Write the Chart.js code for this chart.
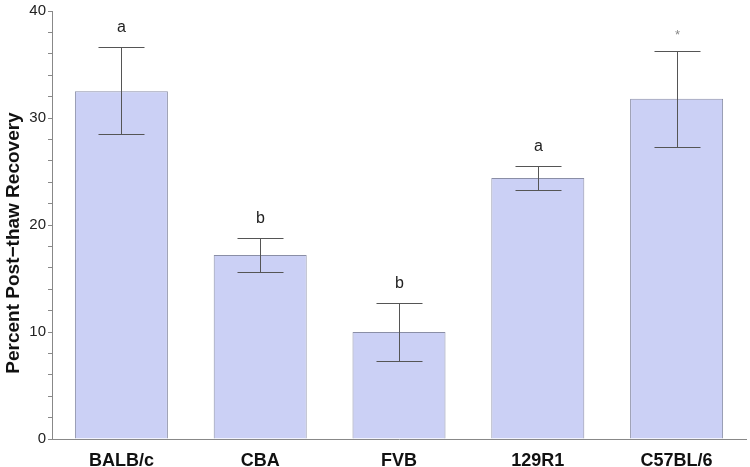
<!DOCTYPE html>
<html>
<head>
<meta charset="utf-8">
<script src="https://cdn.jsdelivr.net/npm/chart.js@4.4.1/dist/chart.umd.min.js"></script>
<style>
  html, body { margin: 0; padding: 0; background: #fff; }
  #wrap { width: 750px; height: 467px; }
</style>
</head>
<body>
<div id="wrap"><canvas id="chart"></canvas></div>
<script>
const strains = ['BALB/c', 'CBA', 'FVB', '129R1', 'C57BL/6'];
const recovery = [32.5, 17.2, 10.0, 24.4, 31.8];
const errHigh = [36.6, 18.8, 12.7, 25.5, 36.3];
const errLow = [28.5, 15.6, 7.3, 23.3, 27.3];
const groupLetters = ['a', 'b', 'b', 'a', '*'];
const yTitle = 'Percent Post\u2212thaw Recovery';

const FONT = '"Liberation Sans", Arial, sans-serif';

// error bars, letters and the y axis title
const errorBars = {
    id: 'errorBars',
    afterDatasetsDraw(chart) {
        const ctx = chart.ctx;
        const x = chart.scales.x;
        const y = chart.scales.y;
        ctx.save();
        ctx.strokeStyle = '#555';
        ctx.lineWidth = 1;
        strains.forEach((s, i) => {
            const cx = Math.round(x.getPixelForValue(i)) + 0.5;
            const top = Math.round(y.getPixelForValue(errHigh[i])) + 0.5;
            const bot = Math.round(y.getPixelForValue(errLow[i])) + 0.5;
            ctx.beginPath();
            ctx.moveTo(cx, top); ctx.lineTo(cx, bot);
            ctx.moveTo(cx - 23, top); ctx.lineTo(cx + 23, top);
            ctx.moveTo(cx - 23, bot); ctx.lineTo(cx + 23, bot);
            ctx.stroke();

            const star = groupLetters[i] === '*';
            ctx.fillStyle = star ? '#888' : '#222';
            ctx.font = (star ? '13px ' : '16px ') + FONT;
            ctx.textAlign = 'center';
            ctx.textBaseline = 'middle';
            ctx.fillText(groupLetters[i], cx, top - (star ? 16 : 20));
        });

        // axis title sits a bit below the middle in the original
        const area = chart.chartArea;
        ctx.translate(14, (area.top + area.bottom) / 2 + 18);
        ctx.rotate(-Math.PI / 2);
        ctx.fillStyle = '#111';
        ctx.font = 'bold 19px ' + FONT;
        ctx.textAlign = 'center';
        ctx.textBaseline = 'middle';
        ctx.fillText(yTitle, 0, 0);
        ctx.restore();
    }
};

new Chart(document.getElementById('chart'), {
    type: 'bar',
    data: {
        labels: strains,
        datasets: [{
            data: recovery,
            backgroundColor: 'rgb(203, 208, 245)',
            borderColor: '#8a8ea6',
            borderWidth: 1,
            borderSkipped: 'bottom',
            categoryPercentage: 1,
            barPercentage: 0.67
        }]
    },
    options: {
        responsive: true,
        maintainAspectRatio: false,
        animation: false,
        layout: { padding: { top: 1, right: 4 } },
        plugins: {
            legend: { display: false },
            tooltip: { enabled: false }
        },
        scales: {
            x: {
                afterFit(scale) { scale.height = 28; },
                grid: { display: false },
                border: { color: '#888', width: 1 },
                ticks: {
                    color: '#111',
                    padding: 3,
                    font: { family: FONT, size: 18, weight: 'bold' }
                }
            },
            y: {
                min: 0,
                max: 40,
                afterFit(scale) { scale.width = 52; },
                grid: { display: true, drawOnChartArea: false, tickLength: 4, color: '#888' },
                border: { color: '#888', width: 1 },
                ticks: {
                    stepSize: 2,
                    autoSkip: false,
                    padding: 2,
                    color: '#222',
                    font: { family: FONT, size: 15 },
                    callback: (v) => (v % 10 === 0 ? v : '')
                }
            }
        }
    },
    plugins: [errorBars]
});
</script>
</body>
</html>
